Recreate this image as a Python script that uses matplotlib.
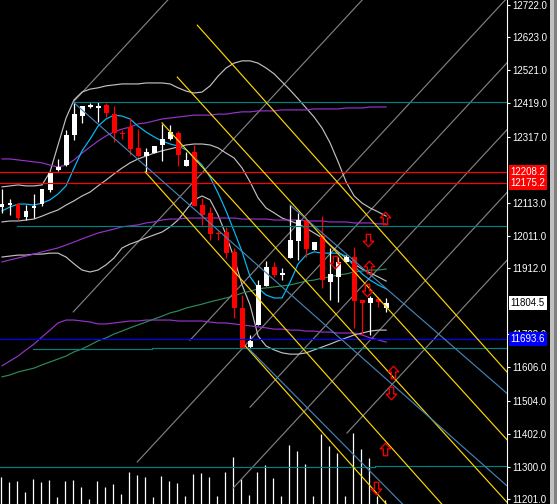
import matplotlib
matplotlib.use("Agg")
import matplotlib.pyplot as plt
import matplotlib.transforms as mtransforms
from matplotlib.path import Path
from matplotlib.patches import Rectangle
import numpy as np

plt.rcParams['font.family'] = ['Liberation Sans', 'DejaVu Sans']

# ---- daily candles ----
opens = [12100, 12106, 12109, 12069, 12097, 12109, 12152, 12214, 12229, 12322,
         12380, 12408, 12405, 12414, 12386, 12328, 12346, 12282, 12257, 12266,
         12291, 12309, 12328, 12226, 12269, 12106, 12082, 12020, 12023, 11962,
         11789, 11669, 11737, 11857, 11915, 11891, 11943, 11995, 12060, 11968,
         12011, 11869, 11885, 11931, 11946, 11814, 11805, 11817, 11789]
highs = [12155, 12125, 12112, 12106, 12140, 12156, 12208, 12248, 12337, 12423,
         12411, 12420, 12423, 12420, 12411, 12337, 12374, 12340, 12282, 12288,
         12356, 12352, 12334, 12269, 12291, 12128, 12100, 12026, 12039, 11974,
         11829, 11706, 11875, 11934, 11931, 11912, 12106, 12082, 12069, 11992,
         12072, 11974, 11946, 11952, 11977, 11814, 11826, 11823, 11820]
lows = [12081, 12075, 12060, 12060, 12066, 12103, 12146, 12212, 12226, 12306,
        12359, 12405, 12362, 12377, 12300, 12309, 12260, 12254, 12208, 12266,
        12242, 12306, 12226, 12226, 12103, 12045, 11998, 11998, 11943, 11758,
        11666, 11666, 11737, 11857, 11885, 11875, 11943, 11937, 11946, 11968,
        11851, 11814, 11808, 11931, 11728, 11706, 11706, 11792, 11777]
closes = [12109, 12112, 12066, 12088, 12103, 12155, 12205, 12223, 12322, 12386,
          12411, 12414, 12411, 12390, 12328, 12325, 12279, 12257, 12269, 12288,
          12309, 12331, 12260, 12245, 12103, 12075, 12017, 12017, 11958, 11789,
          11666, 11688, 11860, 11915, 11891, 11897, 11998, 12060, 11971, 11992,
          11875, 11894, 11931, 11946, 11811, 11805, 11820, 11808, 11804.5]
volumes = [27, 22, 23, 12, 25, 22, 24, 7, 23, 24, 17, 5, 23, 17, 20, 10, 32, 29,
           27, 7, 28, 23, 21, 8, 30, 31, 27, 8, 32, 47, 25, 9, 32, 39, 26, 8,
           59, 53, 40, 8, 70, 58, 51, 8, 71, 55, 46, 8, 4]

# ---- indicators ----
bb_upper = [12162, 12165, 12168, 12165, 12165, 12168, 12208, 12291, 12374, 12430,
            12454, 12463, 12467, 12473, 12476, 12479, 12479, 12479, 12482, 12482,
            12482, 12479, 12467, 12457, 12451, 12454, 12473, 12503, 12528, 12543,
            12550, 12550, 12543, 12528, 12510, 12485, 12460, 12433, 12405, 12377,
            12343, 12297, 12239, 12177, 12134, 12112, 12097, 12085, 12072]
bb_mid = [12054, 12057, 12057, 12060, 12063, 12072, 12082, 12091, 12106, 12119,
          12134, 12146, 12165, 12183, 12202, 12220, 12236, 12248, 12257, 12266,
          12273, 12279, 12285, 12291, 12294, 12294, 12291, 12282, 12266, 12251,
          12220, 12177, 12128, 12097, 12082, 12066, 12057, 12048, 12035, 12020,
          12005, 11983, 11962, 11943, 11925, 11909, 11897, 11885, 11872]
bb_lower = [11946, 11949, 11952, 11952, 11955, 11955, 11958, 11958, 11946, 11925,
            11906, 11900, 11906, 11922, 11943, 11974, 11986, 11995, 12005, 12014,
            12023, 12039, 12060, 12091, 12122, 12134, 12122, 12075, 12014, 11943,
            11860, 11798, 11703, 11672, 11660, 11651, 11647, 11647, 11651, 11660,
            11669, 11678, 11688, 11697, 11706, 11712, 11718, 11721, 11721]
ma_fast = [12088, 12100, 12109, 12109, 12106, 12112, 12122, 12140, 12165, 12220,
           12273, 12309, 12349, 12371, 12383, 12380, 12371, 12349, 12331, 12316,
           12303, 12294, 12288, 12276, 12254, 12229, 12192, 12143, 12088, 12026,
           11962, 11885, 11851, 11829, 11820, 11820, 11869, 11925, 11952, 11962,
           11958, 11958, 11958, 11949, 11918, 11894, 11875, 11860, 11848]
env_upper = [12248, 12248, 12245, 12242, 12239, 12236, 12229, 12223, 12229, 12245,
             12266, 12285, 12303, 12319, 12331, 12340, 12346, 12356, 12359, 12365,
             12371, 12374, 12377, 12380, 12383, 12383, 12383, 12386, 12386, 12390,
             12393, 12393, 12396, 12396, 12396, 12399, 12399, 12399, 12399, 12402,
             12402, 12402, 12402, 12405, 12405, 12405, 12408, 12408, 12408]
env_mid = [11931, 11937, 11943, 11949, 11955, 11962, 11968, 11974, 11983, 11992,
           12002, 12011, 12020, 12026, 12032, 12039, 12042, 12045, 12051, 12054,
           12060, 12063, 12063, 12066, 12066, 12066, 12066, 12066, 12066, 12066,
           12063, 12063, 12063, 12063, 12060, 12060, 12060, 12060, 12057, 12057,
           12057, 12054, 12054, 12054, 12051, 12051, 12051, 12048, 12048]
env_lower = [11611, 11626, 11641, 11660, 11678, 11700, 11721, 11743, 11752, 11752,
             11749, 11746, 11740, 11740, 11743, 11746, 11749, 11749, 11752, 11752,
             11752, 11752, 11749, 11749, 11749, 11749, 11746, 11743, 11743, 11740,
             11737, 11734, 11731, 11728, 11724, 11724, 11721, 11721, 11718, 11718,
             11715, 11715, 11712, 11712, 11712, 11706, 11697, 11691, 11684]
ma_slow = [11577, 11583, 11592, 11598, 11604, 11614, 11623, 11632, 11641, 11654,
           11663, 11675, 11688, 11697, 11709, 11718, 11728, 11737, 11746, 11755,
           11764, 11774, 11780, 11789, 11795, 11801, 11808, 11814, 11820, 11826,
           11835, 11841, 11848, 11851, 11854, 11857, 11860, 11866, 11872, 11875,
           11881, 11885, 11891, 11894, 11900, 11903, 11906, 11906, 11909]

# ---- chart objects ----
red_levels = [12208.2, 12175.2]
blue_level = 11693.6
last_price = 11804.5
# teal horizontal segments: start bar, end bar, price
teal_start = [8.9, 1.9, 3.9, 18.8, -1, 13.5, 46.6]
teal_end = [70, 70, 18.8, 70, 13.5, 46.6, 70]
teal_price = [12423, 12042, 11662, 11665, 11298, 11301, 11304]
# rays: start bar, start price, slope (price per bar)
yellow_bar = [24.4, 21.9, 20.0, 17.9, 30.4]
yellow_price = [12660, 12500, 12359, 12208, 11672]
yellow_slope = [-27.6, -27.1, -27.1, -27.6, -27.6]
steel_bar = [8.9, 36.0, 30.75]
steel_price = [12423, 12106, 11666]
steel_slope = [-21.8, -21.4, -24.9]
grid_bar = [8.9, 8.9, 16.9, 31.0, 28.9, 43.1, 23.5]
grid_price = [12423, 11777, 11315, 11484, 11235, 11404, 11690]
grid_slope = 26.6
# signal arrows: bar, price, direction
arrow_bar = [47.9, 45.75, 45.9, 45.6, 41.6, 48.9, 48.6, 47.9, 46.75]
arrow_price = [12066, 11998, 11915, 11845, 11931, 11592, 11527, 11355, 11235]
arrow_dir = ['up', 'down', 'up', 'down', 'down', 'up', 'down', 'up', 'down']

price_ticks = [11201, 11300, 11402, 11504, 11606, 11708, 11912, 12011, 12113,
               12317, 12419, 12521, 12623, 12722]

fig = plt.figure(figsize=(5.57, 5.04), dpi=100, facecolor='black')
rect = [0, 0, 507 / 557, 1]

# volume in the background
vax = fig.add_axes(rect)
vax.set_facecolor('black')
vax.set_axis_off()
x = np.arange(len(closes))
vax.vlines(x - 0.125, 0, volumes, color='white', lw=0.9)
vax.set_xlim(-0.25, 63.1)
vax.set_ylim(0, 504)

ax = fig.add_axes(rect)
ax.patch.set_alpha(0)
ax.set_xlim(-0.25, 63.1)
ax.set_ylim(11185.6, 12737.4)

far = 70
lw = 0.85
# gray grid
for b, p in zip(grid_bar, grid_price):
    ax.plot([b, far], [p, p + grid_slope * (far - b)], color='#808080', lw=lw, zorder=1)

# indicators
ax.plot(x, bb_upper, color='#c0c0c0', lw=lw, zorder=2)
ax.plot(x, bb_mid, color='#c0c0c0', lw=lw, zorder=2)
ax.plot(x, bb_lower, color='#c0c0c0', lw=lw, zorder=2)
ax.plot(x, env_upper, color='#9932cc', lw=lw, zorder=2)
ax.plot(x, env_mid, color='#9932cc', lw=lw, zorder=2)
ax.plot(x, env_lower, color='#9932cc', lw=lw, zorder=2)
ax.plot(x, ma_slow, color='#2e8b57', lw=lw, zorder=2)
ax.plot(x, ma_fast, color='#00bfff', lw=lw, zorder=2)

# candles
o, h, l, c = map(np.array, (opens, highs, lows, closes))
col = np.where(c >= o, 'white', 'red')
ax.vlines(x, l, h, colors=col, lw=0.9, zorder=3)
lo = np.minimum(o, c)
ht = np.maximum(np.abs(c - o), 3.0)
ax.bar(x, ht, bottom=lo, width=0.62, color=col, lw=0, zorder=3)

# horizontal levels
for p in red_levels:
    ax.axhline(p, color='red', lw=lw, zorder=4)
ax.axhline(blue_level, color='blue', lw=lw, zorder=4)
for s, e, p in zip(teal_start, teal_end, teal_price):
    ax.plot([s, e], [p, p], color='#008080', lw=lw, zorder=4)

# channels
for b, p, k in zip(yellow_bar, yellow_price, yellow_slope):
    ax.plot([b, far], [p, p + k * (far - b)], color='#ffd700', lw=lw, zorder=4)
for b, p, k in zip(steel_bar, steel_price, steel_slope):
    ax.plot([b, far], [p, p + k * (far - b)], color='#4682b4', lw=lw, zorder=4)

# hollow arrows
up_path = Path([(0, 1), (0.85, 0.1), (0.35, 0.1), (0.35, -1), (-0.35, -1),
                (-0.35, 0.1), (-0.85, 0.1), (0, 1)],
               [Path.MOVETO] + [Path.LINETO] * 6 + [Path.CLOSEPOLY])
down_path = Path(up_path.vertices * [1, -1], up_path.codes)
for b, p, d in zip(arrow_bar, arrow_price, arrow_dir):
    ax.plot(b, p, marker=up_path if d == 'up' else down_path, ms=9,
            mfc='none', mec='red', mew=0.9, zorder=5)

# right price scale
ax.yaxis.tick_right()
ax.set_yticks(price_ticks)
ax.set_yticklabels([f"{t:.1f}" for t in price_ticks])
ax.tick_params(axis='y', colors='white', labelsize=7, length=2.5, width=0.8, pad=1.5)
ax.tick_params(axis='x', bottom=False, labelbottom=False)
for s in ['left', 'top', 'bottom']:
    ax.spines[s].set_visible(False)
ax.spines['right'].set_color('white')
ax.spines['right'].set_linewidth(0.8)

trans = mtransforms.blended_transform_factory(ax.transAxes, ax.transData)


def price_box(p, fc, tc):
    ax.text(1.007, p, f"{p:.1f}", transform=trans, ha='left', va='center',
            fontsize=7, color=tc, clip_on=False, zorder=6,
            bbox=dict(boxstyle='square,pad=0.2', fc=fc, ec='none'))


for p in red_levels:
    price_box(p, 'red', 'white')
price_box(last_price, 'white', 'black')
price_box(blue_level, 'blue', 'white')

# window border on the far right
fig.patches.append(Rectangle((550 / 557, 0), 4 / 557, 1, transform=fig.transFigure,
                             fc='#c0c0c0', ec='none'))
fig.patches.append(Rectangle((554 / 557, 0), 3 / 557, 1, transform=fig.transFigure,
                             fc='#808080', ec='none'))

fig.savefig('out.png', dpi=100, facecolor='black')
